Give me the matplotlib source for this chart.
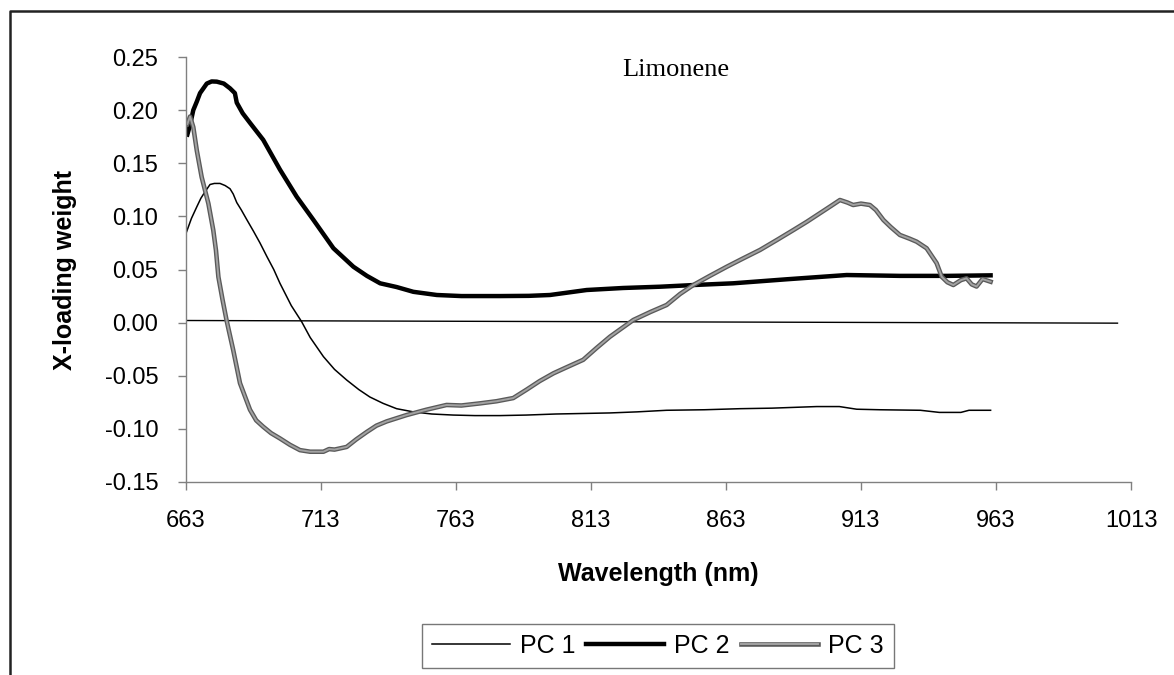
import matplotlib
matplotlib.use('Agg')
import matplotlib.pyplot as plt
import matplotlib.patheffects as pe
from matplotlib.lines import Line2D

# PC loadings (wavelength nm, loading weight)
pc1_nm = [663.0, 665.0, 667.0, 668.5, 670.0, 671.9, 673.5, 675.6, 677.5, 679.3,
          680.5, 681.8, 683.5, 685.5, 688.0, 690.4, 693.0, 695.5, 697.8, 700.0,
          702.0, 705.8, 709.0, 713.9, 718.0, 722.5, 727.0, 731.1, 736.0, 741.0,
          747.2, 754.0, 762.0, 770.0, 779.3, 789.0, 800.0, 810.1, 820.0, 830.0,
          841.0, 855.0, 868.2, 880.0, 896.6, 905.0, 911.4, 920.0, 935.0, 942.0,
          950.0, 953.0, 961.0]
pc1_w = [0.084, 0.098, 0.109, 0.117, 0.123, 0.130, 0.131, 0.131, 0.129, 0.126,
         0.121, 0.113, 0.106, 0.097, 0.086, 0.075, 0.062, 0.050, 0.037, 0.026,
         0.016, 0.001, -0.014, -0.032, -0.044, -0.054, -0.063, -0.070, -0.076, -0.081,
         -0.084, -0.086, -0.087, -0.0875, -0.0875, -0.087, -0.086, -0.0855, -0.085, -0.084,
         -0.0825, -0.082, -0.081, -0.0805, -0.079, -0.079, -0.0815, -0.082, -0.0825, -0.0845,
         -0.0845, -0.0825, -0.0825]

pc2_nm = [663.5, 664.5, 665.7, 667.0, 668.2, 670.7, 672.5, 674.4, 677.0, 679.3,
          681.1, 681.8, 684.0, 686.7, 691.6, 697.8, 704.0, 710.1, 717.6, 725.0,
          730.0, 734.9, 741.0, 747.2, 755.9, 765.0, 779.3, 790.0, 797.8, 811.4,
          824.9, 838.6, 852.0, 865.6, 885.5, 907.7, 927.4, 945.0, 961.0]
pc2_w = [0.177, 0.186, 0.200, 0.208, 0.216, 0.225, 0.227, 0.2268, 0.225, 0.2205,
         0.216, 0.207, 0.197, 0.188, 0.172, 0.144, 0.1185, 0.097, 0.070, 0.0526,
         0.044, 0.037, 0.0335, 0.029, 0.026, 0.025, 0.025, 0.0252, 0.026, 0.0307,
         0.0326, 0.0338, 0.0355, 0.037, 0.0408, 0.0448, 0.044, 0.044, 0.0445]

pc3_nm = [663.5, 664.5, 665.7, 667.0, 668.8, 671.3, 673.1, 674.1, 675.0, 676.5,
          678.0, 680.5, 683.0, 686.7, 689.0, 691.6, 694.5, 697.8, 701.5, 705.2,
          709.0, 713.9, 716.0, 718.0, 722.5, 726.0, 729.9, 733.5, 737.3, 741.0,
          744.7, 752.0, 759.5, 765.0, 771.9, 778.0, 784.2, 789.2, 794.0, 799.1,
          804.0, 810.1, 815.0, 820.0, 824.0, 828.7, 835.0, 841.0, 846.0, 850.9,
          857.0, 863.3, 869.0, 875.6, 882.0, 888.0, 893.0, 897.8, 902.0, 905.2,
          908.0, 910.1, 913.0, 916.3, 918.5, 921.3, 924.0, 927.4, 931.0, 933.6,
          937.3, 941.0, 942.9, 945.0, 947.2, 950.0, 952.1, 954.0, 955.8, 958.0,
          961.0]
pc3_w = [0.187, 0.194, 0.184, 0.162, 0.137, 0.112, 0.087, 0.068, 0.043, 0.022,
         0.0025, -0.026, -0.057, -0.082, -0.092, -0.098, -0.104, -0.109, -0.115, -0.120,
         -0.1215, -0.1215, -0.119, -0.1195, -0.117, -0.110, -0.103, -0.097, -0.093, -0.090,
         -0.087, -0.082, -0.0775, -0.078, -0.076, -0.074, -0.071, -0.063, -0.055, -0.0477,
         -0.042, -0.035, -0.024, -0.0133, -0.006, 0.0025, 0.010, 0.0166, 0.027, 0.0354,
         0.044, 0.0526, 0.060, 0.0684, 0.078, 0.0872, 0.095, 0.103, 0.110, 0.1154,
         0.113, 0.1107, 0.112, 0.1107, 0.106, 0.0966, 0.090, 0.0825, 0.079, 0.0762,
         0.070, 0.056, 0.0432, 0.038, 0.0354, 0.040, 0.0417, 0.036, 0.034, 0.041,
         0.0385]

zero_nm = [663, 1008]
zero_w = [0.002, -0.0005]

x_ticks = [663, 713, 763, 813, 863, 913, 963, 1013]
y_ticks = [-0.15, -0.10, -0.05, 0.00, 0.05, 0.10, 0.15, 0.20, 0.25]
y_tick_labels = ['-0.15', '-0.10', '-0.05', '0.00', '0.05', '0.10', '0.15', '0.20', '0.25']

W, H = 1174, 675
SANS = 'Liberation Sans'


def plot_loadings():
    fig = plt.figure(figsize=(W / 100, H / 100), dpi=100, facecolor='white')
    ax = fig.add_axes([186 / W, 1 - 482 / H, 945 / W, 425 / H])

    ax.plot(zero_nm, zero_w, color='black', lw=1.0)
    ax.plot(pc1_nm, pc1_w, color='black', lw=1.1, label='PC 1')
    ax.plot(pc2_nm, pc2_w, color='black', lw=3.2, label='PC 2')
    ax.plot(pc3_nm, pc3_w, color='#a2a2a2', lw=1.4, label='PC 3',
            path_effects=[pe.Stroke(linewidth=3.3, foreground='#5a5a5a'), pe.Normal()])

    ax.set_xlim(663, 1013)
    ax.set_ylim(-0.15, 0.25)
    ax.set_xticks(x_ticks)
    ax.set_xticklabels([str(v) for v in x_ticks])
    ax.set_yticks(y_ticks)
    ax.set_yticklabels(y_tick_labels)

    for side in ['top', 'right']:
        ax.spines[side].set_visible(False)
    for side in ['left', 'bottom']:
        ax.spines[side].set_color('#808080')
        ax.spines[side].set_linewidth(1.0)
    ax.tick_params(direction='out', length=6, width=1, color='#808080',
                   labelsize=17, pad=14)
    for lab in ax.get_xticklabels() + ax.get_yticklabels():
        lab.set_fontfamily(SANS)

    ax.set_xlabel('Wavelength (nm)', fontsize=18, fontweight='bold', family=SANS, labelpad=22)
    ax.set_ylabel('X-loading weight', fontsize=18, fontweight='bold', family=SANS, labelpad=20)

    fig.text(676 / W, 1 - 70 / H, 'Limonene', ha='center', va='center',
             fontsize=19, family='Liberation Serif')

    leg = fig.legend(loc='center', bbox_to_anchor=(658 / W, 1 - 646 / H), ncol=3,
                     prop={'family': SANS, 'size': 18}, frameon=True, fancybox=False,
                     handlelength=3.1, handletextpad=0.4, columnspacing=0.45,
                     borderpad=0.4)
    leg.get_frame().set_edgecolor('#555555')
    leg.get_frame().set_linewidth(1.0)

    # outer frame (top and left edges only)
    fig.add_artist(Line2D([10 / W, 10 / W, 1], [0, 1 - 11 / H, 1 - 11 / H],
                          transform=fig.transFigure, color='#222222', lw=1.8))

    fig.savefig('out.png', dpi=100, facecolor='white')


if __name__ == '__main__':
    plot_loadings()
